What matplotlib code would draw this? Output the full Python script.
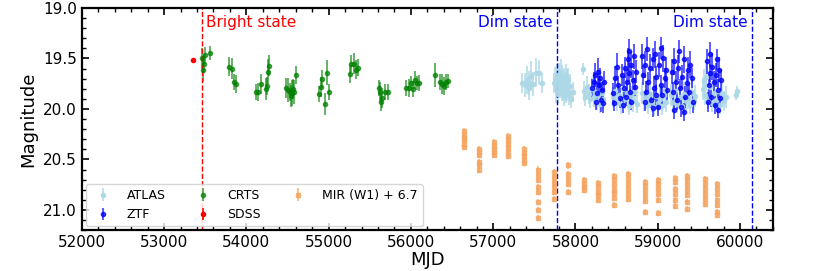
import numpy as np
import matplotlib
matplotlib.use("Agg")
import matplotlib.pyplot as plt
from matplotlib.ticker import MultipleLocator

# ---- data ----
# CRTS (MJD, mag, err)
crts_mjd = [53456, 53472, 53484, 53500, 53557,
            53788, 53828, 53848, 53873,
            54112, 54143, 54176, 54233, 54253, 54265, 54277,
            54479, 54504, 54528, 54540, 54552, 54566, 54576, 54600,
            54884, 54904, 54920, 54961, 54977, 55001,
            55265, 55277, 55305, 55329, 55357,
            55608, 55628, 55641, 55653, 55681, 55721,
            55944, 55976, 56005, 56024, 56045, 56073, 56097,
            56296, 56348, 56376, 56400, 56430, 56457]
crts_mag = [19.50, 19.61, 19.55, 19.47, 19.45,
            19.58, 19.60, 19.73, 19.75,
            19.83, 19.83, 19.75, 19.80, 19.77, 19.63, 19.57,
            19.79, 19.81, 19.83, 19.87, 19.84, 19.80, 19.83, 19.66,
            19.85, 19.78, 19.70, 19.95, 19.64, 19.83,
            19.65, 19.55, 19.55, 19.61, 19.59,
            19.79, 19.83, 19.93, 19.89, 19.83, 19.83,
            19.79, 19.79, 19.74, 19.80, 19.71, 19.74, 19.74,
            19.66, 19.73, 19.75, 19.77, 19.73, 19.72]
crts_err = [0.10, 0.12, 0.09, 0.08, 0.07,
            0.09, 0.10, 0.08, 0.09,
            0.08, 0.09, 0.10, 0.11, 0.09, 0.12, 0.10,
            0.10, 0.12, 0.09, 0.11, 0.13, 0.10, 0.12, 0.09,
            0.08, 0.10, 0.09, 0.11, 0.12, 0.08,
            0.09, 0.08, 0.10, 0.09, 0.08,
            0.08, 0.10, 0.09, 0.10, 0.08, 0.08,
            0.08, 0.09, 0.07, 0.08, 0.09, 0.07, 0.08,
            0.12, 0.08, 0.10, 0.09, 0.08, 0.07]

# SDSS
sdss_mjd = [53347]
sdss_mag = [19.52]
sdss_err = [0.02]

# ATLAS
atlas_mjd = [57352, 57390, 57408, 57432, 57440, 57461, 57490, 57522, 57553, 57595,
             57745, 57755, 57765, 57772, 57780, 57790, 57798, 57805, 57812, 57820,
             57828, 57835, 57842, 57850, 57858, 57865, 57872, 57880, 57888, 57895,
             57903, 57912, 57922, 57935, 57950, 57975,
             58088, 58105, 58120, 58140, 58160, 58180, 58200, 58220, 58240, 58260,
             58280, 58300, 58320, 58340,
             58455, 58480, 58500, 58525, 58550, 58575, 58600, 58625, 58650, 58675,
             58700, 58725, 58745,
             58805, 58830, 58855, 58880, 58905, 58930, 58955, 58980, 59005, 59030,
             59055, 59080, 59105,
             59165, 59190, 59215, 59240, 59265, 59290, 59315, 59340, 59365, 59390,
             59415, 59440, 59455,
             59545, 59560, 59575, 59590, 59610, 59630, 59655, 59680, 59705, 59730,
             59755, 59780, 59805, 59825,
             59950, 59958]
atlas_mag = [19.74, 19.76, 19.71, 19.74, 19.79, 19.67, 19.75, 19.64, 19.64, 19.74,
             19.74, 19.70, 19.80, 19.66, 19.75, 19.85, 19.72, 19.68, 19.78, 19.74,
             19.63, 19.82, 19.70, 19.76, 19.88, 19.72, 19.79, 19.66, 19.84, 19.74,
             19.80, 19.70, 19.86, 19.77, 19.90, 19.83,
             19.60, 19.82, 19.88, 19.78, 19.85, 19.90, 19.80, 19.88, 19.83, 19.92,
             19.86, 19.95, 19.84, 19.90,
             19.88, 19.82, 19.93, 19.86, 19.95, 19.80, 19.90, 19.84, 19.97, 19.87,
             19.92, 19.83, 19.95,
             19.84, 19.92, 19.88, 19.96, 19.85, 19.93, 19.98, 19.87, 19.94, 19.90,
             19.97, 19.86, 19.93,
             19.86, 19.93, 19.82, 19.95, 19.88, 19.97, 19.85, 19.92, 19.89, 19.96,
             19.84, 19.91, 19.87,
             19.80, 19.72, 19.86, 19.68, 19.90, 19.78, 19.94, 19.84, 19.91, 19.82,
             19.96, 19.85, 19.92, 19.88,
             19.86, 19.82]
atlas_err = [0.10, 0.12, 0.14, 0.12, 0.12, 0.14, 0.12, 0.14, 0.12, 0.10,
             0.10, 0.12, 0.14, 0.11, 0.13, 0.10, 0.12, 0.14, 0.11, 0.13,
             0.12, 0.10, 0.14, 0.11, 0.09, 0.13, 0.12, 0.11, 0.10, 0.14,
             0.12, 0.11, 0.10, 0.12, 0.09, 0.10,
             0.06, 0.10, 0.09, 0.11, 0.10, 0.09, 0.12, 0.10, 0.11, 0.09,
             0.10, 0.09, 0.11, 0.10,
             0.10, 0.12, 0.09, 0.11, 0.10, 0.12, 0.10, 0.11, 0.09, 0.10,
             0.11, 0.12, 0.09,
             0.11, 0.10, 0.12, 0.09, 0.11, 0.10, 0.09, 0.12, 0.10, 0.11,
             0.09, 0.12, 0.10,
             0.11, 0.10, 0.12, 0.09, 0.11, 0.09, 0.12, 0.10, 0.11, 0.09,
             0.12, 0.10, 0.11,
             0.11, 0.12, 0.10, 0.13, 0.10, 0.12, 0.09, 0.11, 0.10, 0.12,
             0.09, 0.11, 0.10, 0.11,
             0.05, 0.05]

# ZTF
ztf_mjd = [58201, 58229, 58242, 58250, 58257, 58270, 58282, 58299, 58311, 58323, 58330, 58342,
           58460, 58472, 58481, 58500, 58521, 58545, 58566, 58573, 58585, 58606, 58614, 58621,
           58634, 58646, 58654, 58666, 58670, 58678, 58694, 58706, 58718, 58731,
           58808, 58824, 58840, 58848, 58857, 58873, 58888, 58905, 58921, 58937, 58940, 58954,
           58970, 58978, 58985, 59002, 59019, 59034, 59043, 59051, 59067, 59083, 59100, 59115,
           59172, 59188, 59197, 59204, 59221, 59237, 59252, 59261, 59269, 59285, 59301, 59318,
           59325, 59334, 59350, 59367, 59382, 59398, 59415, 59431,
           59604, 59617, 59625, 59637, 59641, 59653, 59665, 59682, 59694, 59706, 59722, 59731,
           59734, 59750, 59762, 59774]
ztf_mag = [19.79, 19.73, 19.66, 19.93, 19.84, 19.63, 19.76, 19.69, 19.91, 19.81, 19.94, 19.73,
           19.84, 19.94, 19.69, 19.58, 19.76, 19.89, 19.66, 19.96, 19.79, 19.59, 19.88, 19.73,
           19.51, 19.43, 19.64, 19.83, 19.93, 19.56, 19.71, 19.48, 19.78, 19.63,
           19.48, 19.66, 19.56, 19.93, 19.83, 19.41, 19.73, 19.59, 19.91, 19.51, 19.99, 19.79,
           19.46, 19.86, 19.68, 19.98, 19.56, 19.76, 19.40, 19.86, 19.50, 19.69, 19.61, 19.81,
           19.63, 19.83, 20.01, 19.53, 19.73, 19.91, 19.59, 19.43, 19.79, 19.98, 19.68, 19.51,
           20.03, 19.88, 19.74, 19.61, 19.83, 19.56, 19.69, 19.93,
           19.53, 19.93, 19.76, 19.64, 19.46, 19.88, 19.58, 19.73, 19.96, 19.66, 19.51, 20.01,
           19.81, 19.61, 19.89, 19.71]
ztf_err = [0.09, 0.10, 0.12, 0.08, 0.11, 0.13, 0.09, 0.10, 0.12, 0.08, 0.10, 0.11,
           0.10, 0.08, 0.12, 0.13, 0.09, 0.10, 0.11, 0.08, 0.12, 0.10, 0.09, 0.13,
           0.11, 0.12, 0.10, 0.09, 0.08, 0.13, 0.10, 0.12, 0.09, 0.11,
           0.12, 0.10, 0.13, 0.09, 0.11, 0.12, 0.10, 0.13, 0.08, 0.11, 0.09, 0.12,
           0.13, 0.10, 0.11, 0.09, 0.12, 0.10, 0.11, 0.09, 0.13, 0.10, 0.12, 0.11,
           0.12, 0.10, 0.09, 0.13, 0.11, 0.10, 0.12, 0.11, 0.09, 0.10, 0.12, 0.13,
           0.09, 0.11, 0.10, 0.12, 0.09, 0.13, 0.10, 0.11,
           0.12, 0.10, 0.11, 0.09, 0.12, 0.10, 0.13, 0.11, 0.09, 0.12, 0.10, 0.08,
           0.11, 0.12, 0.10, 0.11]

# WISE W1 (already shifted by +6.7)
mir_mjd = [56651] * 6 + [56825] * 6 + [57016] * 5 + [57186] * 6 + [57380] * 5 + \
          [57546] * 8 + [57745] * 6 + [57906] * 5 + [58108] * 4 + [58270] * 5 + \
          [58472] * 7 + [58634] * 6 + [58845] * 6 + [59002] * 6 + [59208] * 6 + \
          [59362] * 7 + [59573] * 6 + [59726] * 7
mir_mag = [20.22, 20.26, 20.29, 20.31, 20.35, 20.38,
           20.40, 20.43, 20.46, 20.53, 20.56, 20.60,
           20.33, 20.37, 20.40, 20.43, 20.46,
           20.27, 20.31, 20.35, 20.39, 20.43, 20.47,
           20.40, 20.44, 20.47, 20.51, 20.54,
           20.60, 20.65, 20.70, 20.77, 20.82, 20.92, 21.00, 21.08,
           20.62, 20.67, 20.72, 20.77, 20.82, 20.89,
           20.56, 20.64, 20.69, 20.74, 20.82,
           20.70, 20.74, 20.77, 20.80,
           20.73, 20.77, 20.82, 20.85, 20.90,
           20.66, 20.70, 20.75, 20.80, 20.83, 20.88, 20.95,
           20.64, 20.69, 20.74, 20.79, 20.84, 20.89,
           20.72, 20.76, 20.81, 20.86, 20.91, 21.02,
           20.70, 20.74, 20.79, 20.84, 20.90, 21.03,
           20.68, 20.72, 20.79, 20.84, 20.90, 20.96,
           20.66, 20.70, 20.75, 20.80, 20.85, 20.92, 20.99,
           20.69, 20.74, 20.79, 20.84, 20.89, 20.94,
           20.74, 20.79, 20.84, 20.90, 20.95, 21.02, 21.05]
mir_err = [0.03] * len(mir_mag)

bright_mjd = 53464
dim_mjd = [57772, 60143]

# ---- plot ----
fig = plt.figure(figsize=(8.14, 2.71), dpi=100)
ax = fig.add_axes([0.1005, 0.151, 0.849, 0.8195])

ms = 3
ax.errorbar(atlas_mjd, atlas_mag, yerr=atlas_err, fmt='o', ms=ms, color='lightblue',
            elinewidth=1.2, alpha=0.9, label='ATLAS')
ax.errorbar(ztf_mjd, ztf_mag, yerr=ztf_err, fmt='o', ms=ms, color='blue',
            elinewidth=1.2, alpha=0.75, label='ZTF')
ax.errorbar(crts_mjd, crts_mag, yerr=crts_err, fmt='o', ms=ms, color='green',
            elinewidth=1.2, alpha=0.7, label='CRTS')
ax.errorbar(sdss_mjd, sdss_mag, yerr=sdss_err, fmt='o', ms=ms, color='red',
            elinewidth=1.2, label='SDSS')
ax.errorbar(mir_mjd, mir_mag, yerr=mir_err, fmt='s', ms=2.5, color='sandybrown',
            elinewidth=1.2, alpha=0.8, label='MIR (W1) + 6.7')

ax.axvline(bright_mjd, color='red', ls='--', lw=1)
for d in dim_mjd:
    ax.axvline(d, color='blue', ls='--', lw=1)

ax.text(bright_mjd + 50, 19.07, 'Bright state', color='red', fontsize=11, ha='left', va='top')
for d in dim_mjd:
    ax.text(d - 50, 19.07, 'Dim state', color='blue', fontsize=11, ha='right', va='top')

ax.set_xlim(52000, 60400)
ax.set_ylim(21.2, 19.0)
ax.xaxis.set_major_locator(MultipleLocator(1000))
ax.xaxis.set_minor_locator(MultipleLocator(200))
ax.yaxis.set_major_locator(MultipleLocator(0.5))
ax.yaxis.set_minor_locator(MultipleLocator(0.1))
ax.tick_params(which='both', direction='in', top=True, right=True, labelsize=11)
ax.tick_params(which='major', length=5, width=1.2)
ax.tick_params(which='minor', length=3, width=1)
for s in ax.spines.values():
    s.set_linewidth(1.6)

ax.set_xlabel('MJD', fontsize=13, labelpad=1)
ax.set_ylabel('Magnitude', fontsize=13)

ax.legend(loc='lower left', ncol=3, fontsize=9, borderaxespad=0.3,
          columnspacing=2.0, handletextpad=0.9)

fig.savefig('out.png', dpi=100)
